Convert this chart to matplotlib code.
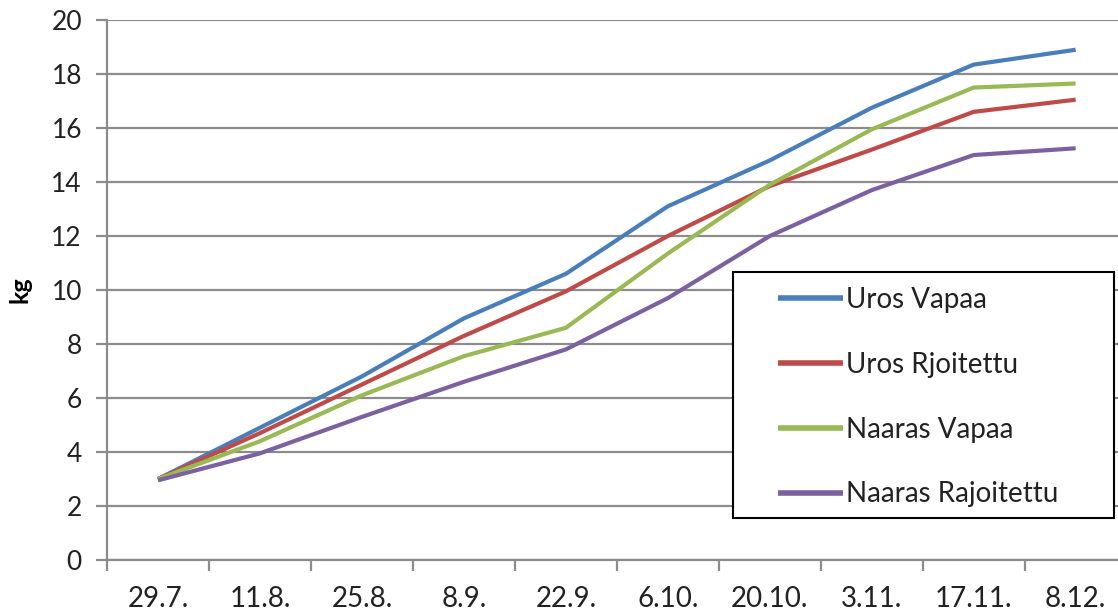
import matplotlib
matplotlib.use("Agg")
import matplotlib.pyplot as plt
from matplotlib.patches import Rectangle
from matplotlib.ticker import FixedLocator

plt.rcParams["font.family"] = ["Lato", "DejaVu Sans"]

DATES = ["29.7.", "11.8.", "25.8.", "8.9.", "22.9.", "6.10.", "20.10.", "3.11.", "17.11.", "8.12."]

UROS_VAPAA = [3.0, 4.9, 6.8, 8.95, 10.6, 13.1, 14.8, 16.75, 18.35, 18.9]
UROS_RJOITETTU = [3.0, 4.7, 6.5, 8.3, 9.95, 12.0, 13.85, 15.2, 16.6, 17.05]
NAARAS_VAPAA = [3.0, 4.4, 6.1, 7.55, 8.6, 11.35, 13.9, 15.95, 17.5, 17.65]
NAARAS_RAJOITETTU = [2.95, 3.95, 5.3, 6.6, 7.8, 9.7, 12.0, 13.7, 15.0, 15.25]

SERIES = [
    ("Uros Vapaa", UROS_VAPAA, "#4a7ebb"),
    ("Uros Rjoitettu", UROS_RJOITETTU, "#be4b48"),
    ("Naaras Vapaa", NAARAS_VAPAA, "#98b954"),
    ("Naaras Rajoitettu", NAARAS_RAJOITETTU, "#7d60a0"),
]

GRID_GRAY = "#8c8c8c"
FS = 20

fig = plt.figure(figsize=(11.18, 6.15), dpi=100)
ax = fig.add_axes([0.0957, 0.0894, 0.912, 0.878])

x = list(range(len(DATES)))
for label, values, color in SERIES:
    ax.plot(x, values, color=color, lw=3.0, label=label, solid_capstyle="butt", zorder=3)

ax.set_xlim(-0.5, len(DATES) - 0.5)
ax.set_ylim(0, 20)
ax.set_yticks(range(0, 21, 2))
ax.set_xticks(x)
ax.set_xticklabels(DATES)
ax.xaxis.set_minor_locator(FixedLocator([i - 0.5 for i in range(len(DATES) + 1)]))

ax.grid(axis="y", color=GRID_GRAY, lw=1.6, zorder=0)
ax.set_axisbelow(True)

for side in ["top", "right"]:
    ax.spines[side].set_visible(False)
for side in ["left", "bottom"]:
    ax.spines[side].set_color(GRID_GRAY)
    ax.spines[side].set_linewidth(1.6)

ax.tick_params(axis="y", length=8, width=1.6, color=GRID_GRAY, labelsize=FS - 1, labelcolor="#222222", pad=10)
ax.tick_params(axis="x", which="major", length=0, labelsize=FS, labelcolor="#222222", pad=19)
ax.tick_params(axis="x", which="minor", length=8, width=1.6, color=GRID_GRAY)

ax.set_ylabel("kg", fontsize=FS - 2, fontweight="bold", labelpad=14)

# legend box drawn separately so the inner padding can differ per side
box = Rectangle((0.614, 0.078), 0.374, 0.455, transform=ax.transAxes, facecolor="white",
                edgecolor="black", lw=1.5, zorder=4, clip_on=False)
ax.add_patch(box)

leg = ax.legend(loc="upper left", bbox_to_anchor=(0.658, 0.506), borderaxespad=0, borderpad=0,
                fontsize=FS, frameon=False, handlelength=2.35, handletextpad=0.1, labelspacing=1.4)
leg.set_zorder(5)
for line in leg.get_lines():
    line.set_linewidth(4.0)
for text in leg.get_texts():
    text.set_color("#222222")

fig.savefig("out.png", dpi=100)
